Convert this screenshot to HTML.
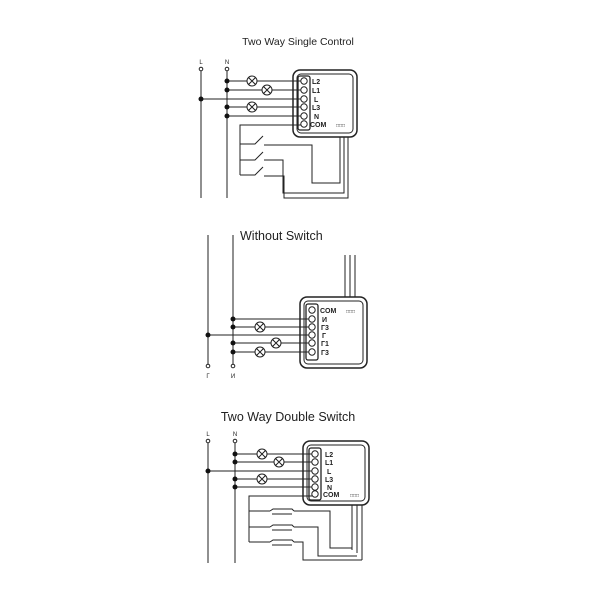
<!DOCTYPE html>
<html><head><style>body{margin:0;background:#fff}svg{display:block}</style></head><body>
<svg width="600" height="600" viewBox="0 0 600 600" xmlns="http://www.w3.org/2000/svg" font-family="Liberation Sans, sans-serif" stroke="#222" stroke-width="1" fill="none">
<defs>
<g id="lamp"><circle r="5" fill="#fff"/><path d="M-3.5,-3.5L3.5,3.5M-3.5,3.5L3.5,-3.5"/></g>
</defs>
<!-- Diagram 1 -->
<text x="298" y="45" font-size="10.5" fill="#222" stroke="none" text-anchor="middle">Two Way Single Control</text>
<text x="201" y="64" font-size="6" fill="#222" stroke="none" text-anchor="middle">L</text>
<text x="227" y="64" font-size="6" fill="#222" stroke="none" text-anchor="middle">N</text>
<circle cx="201" cy="69" r="1.8"/><circle cx="227" cy="69" r="1.8"/>
<path d="M201,71V198M227,71V198"/>
<rect x="293" y="70" width="64" height="67" rx="7" stroke-width="1.5"/>
<rect x="297" y="74" width="56" height="59" rx="4"/>
<rect x="298" y="76" width="12" height="54" rx="2" stroke-width="1.3"/>
<g fill="#222" stroke="none" font-size="7" font-weight="bold">
<text x="312" y="84">L2</text><text x="312" y="93">L1</text><text x="314" y="102">L</text><text x="312" y="110">L3</text><text x="314" y="119">N</text><text x="310" y="127">COM</text>
<text x="336" y="127" font-size="5" font-weight="normal">□□□</text></g>
<g fill="#fff"><circle cx="304" cy="81" r="3.2"/><circle cx="304" cy="90" r="3.2"/><circle cx="304" cy="99" r="3.2"/><circle cx="304" cy="107" r="3.2"/><circle cx="304" cy="116" r="3.2"/><circle cx="304" cy="124" r="3.2"/></g>
<path d="M227,81H301M227,90H301M201,99H301M227,107H301M227,116H301"/>
<g fill="#111" stroke="none"><circle cx="227" cy="81" r="2.5"/><circle cx="227" cy="90" r="2.5"/><circle cx="201" cy="99" r="2.5"/><circle cx="227" cy="107" r="2.5"/><circle cx="227" cy="116" r="2.5"/></g>
<use href="#lamp" x="252" y="81"/><use href="#lamp" x="267" y="90"/><use href="#lamp" x="252" y="107"/>
<path d="M340,137V183M344,137V183M348,137V183"/>
<path d="M301,125H240V175M240,144H255L263,136M240,160H255L263,152M240,175H255L263,167"/>
<path d="M264,145H312V183H340V178M264,160H283V193H344V183M264,176H284V198H348V183"/>
<!-- Diagram 2 -->
<text x="240" y="240" font-size="12.5" fill="#222" stroke="none">Without Switch</text>
<path d="M208,235V364M233,235V364"/>
<circle cx="208" cy="366" r="1.8"/><circle cx="233" cy="366" r="1.8"/>
<text x="208" y="378" font-size="6" fill="#222" stroke="none" text-anchor="middle">Г</text>
<text x="233" y="378" font-size="6" fill="#222" stroke="none" text-anchor="middle">И</text>
<path d="M345,255V297M350,255V297M355,255V297"/>
<rect x="300" y="297" width="67" height="71" rx="7" stroke-width="1.5"/>
<rect x="304" y="301" width="59" height="63" rx="4"/>
<rect x="306" y="304" width="12" height="56" rx="2" stroke-width="1.3"/>
<g fill="#222" stroke="none" font-size="7" font-weight="bold">
<text x="320" y="313">COM</text><text x="322" y="322">И</text><text x="321" y="330">Г3</text><text x="322" y="338">Г</text><text x="321" y="346">Г1</text><text x="321" y="355">Г3</text>
<text x="346" y="313" font-size="5" font-weight="normal">□□□</text></g>
<g fill="#fff"><circle cx="312" cy="310" r="3.2"/><circle cx="312" cy="319" r="3.2"/><circle cx="312" cy="327" r="3.2"/><circle cx="312" cy="335" r="3.2"/><circle cx="312" cy="343" r="3.2"/><circle cx="312" cy="352" r="3.2"/></g>
<path d="M233,319H309M233,327H309M208,335H309M233,343H309M233,352H309"/>
<g fill="#111" stroke="none"><circle cx="233" cy="319" r="2.5"/><circle cx="233" cy="327" r="2.5"/><circle cx="208" cy="335" r="2.5"/><circle cx="233" cy="343" r="2.5"/><circle cx="233" cy="352" r="2.5"/></g>
<use href="#lamp" x="260" y="327"/><use href="#lamp" x="276" y="343"/><use href="#lamp" x="260" y="352"/>
<!-- Diagram 3 -->
<text x="288" y="421" font-size="12.5" fill="#222" stroke="none" text-anchor="middle">Two Way Double Switch</text>
<text x="208" y="436" font-size="6" fill="#222" stroke="none" text-anchor="middle">L</text>
<text x="235" y="436" font-size="6" fill="#222" stroke="none" text-anchor="middle">N</text>
<circle cx="208" cy="441" r="1.8"/><circle cx="235" cy="441" r="1.8"/>
<path d="M208,443V563M235,443V563"/>
<rect x="303" y="441" width="66" height="64" rx="7" stroke-width="1.5"/>
<rect x="307" y="445" width="58" height="56" rx="4"/>
<rect x="309" y="448" width="12" height="52" rx="2" stroke-width="1.3"/>
<g fill="#222" stroke="none" font-size="7" font-weight="bold">
<text x="325" y="457">L2</text><text x="325" y="465">L1</text><text x="327" y="474">L</text><text x="325" y="482">L3</text><text x="327" y="490">N</text><text x="323" y="497">COM</text>
<text x="350" y="497" font-size="5" font-weight="normal">□□□</text></g>
<g fill="#fff"><circle cx="315" cy="454" r="3.2"/><circle cx="315" cy="462" r="3.2"/><circle cx="315" cy="471" r="3.2"/><circle cx="315" cy="479" r="3.2"/><circle cx="315" cy="487" r="3.2"/><circle cx="315" cy="494" r="3.2"/></g>
<path d="M235,454H312M235,462H312M208,471H312M235,479H312M235,487H312"/>
<g fill="#111" stroke="none"><circle cx="235" cy="454" r="2.5"/><circle cx="235" cy="462" r="2.5"/><circle cx="208" cy="471" r="2.5"/><circle cx="235" cy="479" r="2.5"/><circle cx="235" cy="487" r="2.5"/></g>
<use href="#lamp" x="262" y="454"/><use href="#lamp" x="279" y="462"/><use href="#lamp" x="262" y="479"/>
<path d="M352,505V550M357,505V553M362,505V560"/>
<path d="M312,496H249V542M249,511H270M249,527H270M249,542H270"/>
<path d="M270,511L273,509H292L294,511M272,514H292M270,527L273,525H292L294,527M272,530H292M270,542L273,540H292L294,542M272,545H292"/>
<path d="M294,511H330V548H352M294,527H318V556H357M294,542H303V560H362"/>
</svg>
</body></html>
